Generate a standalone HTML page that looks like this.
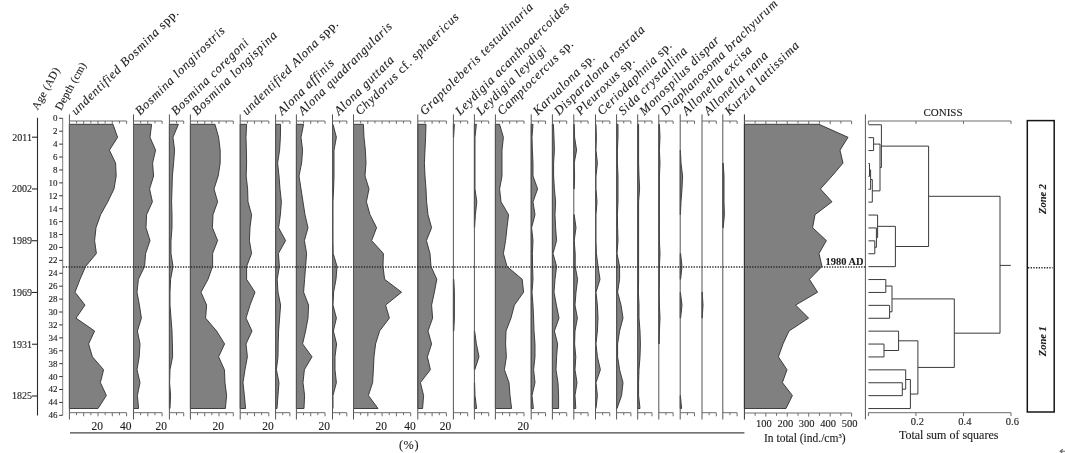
<!DOCTYPE html>
<html><head><meta charset="utf-8"><title>Cladocera stratigraphic diagram</title>
<style>
html,body{margin:0;padding:0;background:#fff;}
body{width:1065px;height:453px;overflow:hidden;}
svg{display:block;will-change:transform;filter:grayscale(1);font-variant-ligatures:none;font-family:"Liberation Serif","DejaVu Serif",serif;fill:#1c1c1c;stroke:#1c1c1c;stroke-width:0;} text{stroke-width:0.12px;}
</style></head><body>
<svg width="1065" height="453" viewBox="0 0 1065 453">
<rect width="1065" height="453" fill="#fff"/>
<line x1="37.50" y1="117.80" x2="37.50" y2="415.60" stroke="#2a2a2a" stroke-width="1.1" />
<line x1="32.00" y1="137.20" x2="37.50" y2="137.20" stroke="#2a2a2a" stroke-width="1.1" />
<text x="32.00" y="140.50" font-size="10" text-anchor="end" >2011</text>
<line x1="32.00" y1="188.96" x2="37.50" y2="188.96" stroke="#2a2a2a" stroke-width="1.1" />
<text x="32.00" y="192.26" font-size="10" text-anchor="end" >2002</text>
<line x1="32.00" y1="240.72" x2="37.50" y2="240.72" stroke="#2a2a2a" stroke-width="1.1" />
<text x="32.00" y="244.02" font-size="10" text-anchor="end" >1989</text>
<line x1="32.00" y1="292.48" x2="37.50" y2="292.48" stroke="#2a2a2a" stroke-width="1.1" />
<text x="32.00" y="295.78" font-size="10" text-anchor="end" >1969</text>
<line x1="32.00" y1="344.24" x2="37.50" y2="344.24" stroke="#2a2a2a" stroke-width="1.1" />
<text x="32.00" y="347.54" font-size="10" text-anchor="end" >1931</text>
<line x1="32.00" y1="396.00" x2="37.50" y2="396.00" stroke="#2a2a2a" stroke-width="1.1" />
<text x="32.00" y="399.30" font-size="10" text-anchor="end" >1825</text>
<line x1="62.70" y1="118.30" x2="62.70" y2="415.20" stroke="#808080" stroke-width="1" />
<line x1="59.20" y1="118.30" x2="62.70" y2="118.30" stroke="#333" stroke-width="1" />
<text x="57.60" y="120.50" font-size="9" text-anchor="end" >0</text>
<line x1="59.20" y1="131.21" x2="62.70" y2="131.21" stroke="#333" stroke-width="1" />
<text x="57.60" y="134.21" font-size="9" text-anchor="end" >2</text>
<line x1="59.20" y1="144.13" x2="62.70" y2="144.13" stroke="#333" stroke-width="1" />
<text x="57.60" y="147.13" font-size="9" text-anchor="end" >4</text>
<line x1="59.20" y1="157.04" x2="62.70" y2="157.04" stroke="#333" stroke-width="1" />
<text x="57.60" y="160.04" font-size="9" text-anchor="end" >6</text>
<line x1="59.20" y1="169.96" x2="62.70" y2="169.96" stroke="#333" stroke-width="1" />
<text x="57.60" y="172.96" font-size="9" text-anchor="end" >8</text>
<line x1="59.20" y1="182.87" x2="62.70" y2="182.87" stroke="#333" stroke-width="1" />
<text x="57.60" y="185.87" font-size="9" text-anchor="end" >10</text>
<line x1="59.20" y1="195.78" x2="62.70" y2="195.78" stroke="#333" stroke-width="1" />
<text x="57.60" y="198.78" font-size="9" text-anchor="end" >12</text>
<line x1="59.20" y1="208.70" x2="62.70" y2="208.70" stroke="#333" stroke-width="1" />
<text x="57.60" y="211.70" font-size="9" text-anchor="end" >14</text>
<line x1="59.20" y1="221.61" x2="62.70" y2="221.61" stroke="#333" stroke-width="1" />
<text x="57.60" y="224.61" font-size="9" text-anchor="end" >16</text>
<line x1="59.20" y1="234.53" x2="62.70" y2="234.53" stroke="#333" stroke-width="1" />
<text x="57.60" y="237.53" font-size="9" text-anchor="end" >18</text>
<line x1="59.20" y1="247.44" x2="62.70" y2="247.44" stroke="#333" stroke-width="1" />
<text x="57.60" y="250.44" font-size="9" text-anchor="end" >20</text>
<line x1="59.20" y1="260.35" x2="62.70" y2="260.35" stroke="#333" stroke-width="1" />
<text x="57.60" y="263.35" font-size="9" text-anchor="end" >22</text>
<line x1="59.20" y1="273.27" x2="62.70" y2="273.27" stroke="#333" stroke-width="1" />
<text x="57.60" y="276.27" font-size="9" text-anchor="end" >24</text>
<line x1="59.20" y1="286.18" x2="62.70" y2="286.18" stroke="#333" stroke-width="1" />
<text x="57.60" y="289.18" font-size="9" text-anchor="end" >26</text>
<line x1="59.20" y1="299.10" x2="62.70" y2="299.10" stroke="#333" stroke-width="1" />
<text x="57.60" y="302.10" font-size="9" text-anchor="end" >28</text>
<line x1="59.20" y1="312.01" x2="62.70" y2="312.01" stroke="#333" stroke-width="1" />
<text x="57.60" y="315.01" font-size="9" text-anchor="end" >30</text>
<line x1="59.20" y1="324.92" x2="62.70" y2="324.92" stroke="#333" stroke-width="1" />
<text x="57.60" y="327.92" font-size="9" text-anchor="end" >32</text>
<line x1="59.20" y1="337.84" x2="62.70" y2="337.84" stroke="#333" stroke-width="1" />
<text x="57.60" y="340.84" font-size="9" text-anchor="end" >34</text>
<line x1="59.20" y1="350.75" x2="62.70" y2="350.75" stroke="#333" stroke-width="1" />
<text x="57.60" y="353.75" font-size="9" text-anchor="end" >36</text>
<line x1="59.20" y1="363.67" x2="62.70" y2="363.67" stroke="#333" stroke-width="1" />
<text x="57.60" y="366.67" font-size="9" text-anchor="end" >38</text>
<line x1="59.20" y1="376.58" x2="62.70" y2="376.58" stroke="#333" stroke-width="1" />
<text x="57.60" y="379.58" font-size="9" text-anchor="end" >40</text>
<line x1="59.20" y1="389.49" x2="62.70" y2="389.49" stroke="#333" stroke-width="1" />
<text x="57.60" y="392.49" font-size="9" text-anchor="end" >42</text>
<line x1="59.20" y1="402.41" x2="62.70" y2="402.41" stroke="#333" stroke-width="1" />
<text x="57.60" y="405.41" font-size="9" text-anchor="end" >44</text>
<line x1="59.20" y1="415.32" x2="62.70" y2="415.32" stroke="#333" stroke-width="1" />
<text x="57.60" y="418.32" font-size="9" text-anchor="end" >46</text>
<polygon points="69.4,124.3 113.0,124.3 117.6,137.3 109.4,150.2 115.6,163.1 116.2,176.0 114.0,188.9 107.8,201.8 100.6,214.7 96.0,227.7 94.6,240.6 96.4,253.5 85.6,266.4 80.0,279.3 75.0,292.2 85.0,305.1 76.0,318.1 94.6,331.0 88.6,343.9 92.4,356.8 103.6,369.7 100.4,382.6 106.4,395.5 98.0,408.5 69.4,408.5" fill="#808080" stroke="#303030" stroke-width="0.9" stroke-linejoin="miter"/>
<line x1="69.40" y1="114.40" x2="69.40" y2="419.50" stroke="#555" stroke-width="1" />
<line x1="69.40" y1="121.00" x2="126.60" y2="121.00" stroke="#6c6c6c" stroke-width="1" />
<line x1="69.40" y1="412.70" x2="126.60" y2="412.70" stroke="#6c6c6c" stroke-width="1" />
<line x1="76.55" y1="121.00" x2="76.55" y2="123.40" stroke="#6c6c6c" stroke-width="1" />
<line x1="76.55" y1="412.70" x2="76.55" y2="415.20" stroke="#6c6c6c" stroke-width="1" />
<line x1="83.70" y1="121.00" x2="83.70" y2="123.90" stroke="#6c6c6c" stroke-width="1" />
<line x1="83.70" y1="412.70" x2="83.70" y2="416.30" stroke="#6c6c6c" stroke-width="1" />
<line x1="90.85" y1="121.00" x2="90.85" y2="123.40" stroke="#6c6c6c" stroke-width="1" />
<line x1="90.85" y1="412.70" x2="90.85" y2="415.20" stroke="#6c6c6c" stroke-width="1" />
<line x1="98.00" y1="121.00" x2="98.00" y2="123.90" stroke="#6c6c6c" stroke-width="1" />
<line x1="98.00" y1="412.70" x2="98.00" y2="416.30" stroke="#6c6c6c" stroke-width="1" />
<line x1="105.15" y1="121.00" x2="105.15" y2="123.40" stroke="#6c6c6c" stroke-width="1" />
<line x1="105.15" y1="412.70" x2="105.15" y2="415.20" stroke="#6c6c6c" stroke-width="1" />
<line x1="112.30" y1="121.00" x2="112.30" y2="123.90" stroke="#6c6c6c" stroke-width="1" />
<line x1="112.30" y1="412.70" x2="112.30" y2="416.30" stroke="#6c6c6c" stroke-width="1" />
<line x1="119.45" y1="121.00" x2="119.45" y2="123.40" stroke="#6c6c6c" stroke-width="1" />
<line x1="119.45" y1="412.70" x2="119.45" y2="415.20" stroke="#6c6c6c" stroke-width="1" />
<line x1="126.60" y1="121.00" x2="126.60" y2="123.90" stroke="#6c6c6c" stroke-width="1" />
<line x1="126.60" y1="412.70" x2="126.60" y2="416.30" stroke="#6c6c6c" stroke-width="1" />
<text x="97.20" y="429.60" font-size="11.5" text-anchor="middle" >20</text>
<text x="125.80" y="429.60" font-size="11.5" text-anchor="middle" >40</text>
<text transform="translate(76.0,115.7) rotate(-44.6)" font-size="12.5" letter-spacing="0.8" xml:space="preserve"><tspan font-style="italic">undentified Bosmina </tspan><tspan font-style="normal">spp.</tspan></text>
<polygon points="133.5,124.3 151.6,124.3 150.0,137.3 155.6,150.2 152.6,163.1 153.6,176.0 149.6,188.9 152.4,201.8 146.6,214.7 146.0,227.7 150.0,240.6 145.6,253.5 144.6,266.4 138.4,279.3 137.0,292.2 139.4,305.1 141.4,318.1 137.4,331.0 140.0,343.9 139.2,356.8 137.0,369.7 140.0,382.6 137.4,395.5 138.6,408.5 133.5,408.5" fill="#808080" stroke="#303030" stroke-width="0.9" stroke-linejoin="miter"/>
<line x1="133.50" y1="114.40" x2="133.50" y2="419.50" stroke="#555" stroke-width="1" />
<line x1="133.50" y1="121.00" x2="162.10" y2="121.00" stroke="#6c6c6c" stroke-width="1" />
<line x1="133.50" y1="412.70" x2="162.10" y2="412.70" stroke="#6c6c6c" stroke-width="1" />
<line x1="140.65" y1="121.00" x2="140.65" y2="123.40" stroke="#6c6c6c" stroke-width="1" />
<line x1="140.65" y1="412.70" x2="140.65" y2="415.20" stroke="#6c6c6c" stroke-width="1" />
<line x1="147.80" y1="121.00" x2="147.80" y2="123.90" stroke="#6c6c6c" stroke-width="1" />
<line x1="147.80" y1="412.70" x2="147.80" y2="416.30" stroke="#6c6c6c" stroke-width="1" />
<line x1="154.95" y1="121.00" x2="154.95" y2="123.40" stroke="#6c6c6c" stroke-width="1" />
<line x1="154.95" y1="412.70" x2="154.95" y2="415.20" stroke="#6c6c6c" stroke-width="1" />
<line x1="162.10" y1="121.00" x2="162.10" y2="123.90" stroke="#6c6c6c" stroke-width="1" />
<line x1="162.10" y1="412.70" x2="162.10" y2="416.30" stroke="#6c6c6c" stroke-width="1" />
<text x="161.30" y="429.60" font-size="11.5" text-anchor="middle" >20</text>
<text transform="translate(140.1,115.7) rotate(-44.6)" font-size="12.5" letter-spacing="0.8" xml:space="preserve"><tspan font-style="italic">Bosmina longirostris</tspan></text>
<polygon points="169.4,124.3 178.4,124.3 173.0,137.3 174.6,150.2 173.6,163.1 172.4,176.0 172.0,188.9 171.6,201.8 172.0,214.7 172.0,227.7 171.0,240.6 171.0,253.5 173.0,266.4 170.6,279.3 170.0,292.2 170.0,305.1 171.0,318.1 172.0,331.0 172.4,343.9 172.6,356.8 170.0,369.7 169.6,382.6 170.6,395.5 170.0,408.5 169.4,408.5" fill="#808080" stroke="#303030" stroke-width="0.9" stroke-linejoin="miter"/>
<line x1="169.40" y1="114.40" x2="169.40" y2="419.50" stroke="#555" stroke-width="1" />
<line x1="169.40" y1="121.00" x2="183.70" y2="121.00" stroke="#6c6c6c" stroke-width="1" />
<line x1="169.40" y1="412.70" x2="183.70" y2="412.70" stroke="#6c6c6c" stroke-width="1" />
<line x1="176.55" y1="121.00" x2="176.55" y2="123.40" stroke="#6c6c6c" stroke-width="1" />
<line x1="176.55" y1="412.70" x2="176.55" y2="415.20" stroke="#6c6c6c" stroke-width="1" />
<line x1="183.70" y1="121.00" x2="183.70" y2="123.90" stroke="#6c6c6c" stroke-width="1" />
<line x1="183.70" y1="412.70" x2="183.70" y2="416.30" stroke="#6c6c6c" stroke-width="1" />
<text transform="translate(176.0,115.7) rotate(-44.6)" font-size="12.5" letter-spacing="0.8" xml:space="preserve"><tspan font-style="italic">Bosmina coregoni</tspan></text>
<polygon points="190.4,124.3 215.0,124.3 218.6,137.3 220.2,150.2 220.2,163.1 218.2,176.0 214.0,188.9 217.6,201.8 213.0,214.7 212.4,227.7 217.6,240.6 212.6,253.5 212.6,266.4 208.0,279.3 201.0,292.2 206.6,305.1 205.6,318.1 216.6,331.0 224.6,343.9 218.6,356.8 224.4,369.7 225.0,382.6 226.6,395.5 225.4,408.5 190.4,408.5" fill="#808080" stroke="#303030" stroke-width="0.9" stroke-linejoin="miter"/>
<line x1="190.40" y1="114.40" x2="190.40" y2="419.50" stroke="#555" stroke-width="1" />
<line x1="190.40" y1="121.00" x2="233.30" y2="121.00" stroke="#6c6c6c" stroke-width="1" />
<line x1="190.40" y1="412.70" x2="233.30" y2="412.70" stroke="#6c6c6c" stroke-width="1" />
<line x1="197.55" y1="121.00" x2="197.55" y2="123.40" stroke="#6c6c6c" stroke-width="1" />
<line x1="197.55" y1="412.70" x2="197.55" y2="415.20" stroke="#6c6c6c" stroke-width="1" />
<line x1="204.70" y1="121.00" x2="204.70" y2="123.90" stroke="#6c6c6c" stroke-width="1" />
<line x1="204.70" y1="412.70" x2="204.70" y2="416.30" stroke="#6c6c6c" stroke-width="1" />
<line x1="211.85" y1="121.00" x2="211.85" y2="123.40" stroke="#6c6c6c" stroke-width="1" />
<line x1="211.85" y1="412.70" x2="211.85" y2="415.20" stroke="#6c6c6c" stroke-width="1" />
<line x1="219.00" y1="121.00" x2="219.00" y2="123.90" stroke="#6c6c6c" stroke-width="1" />
<line x1="219.00" y1="412.70" x2="219.00" y2="416.30" stroke="#6c6c6c" stroke-width="1" />
<line x1="226.15" y1="121.00" x2="226.15" y2="123.40" stroke="#6c6c6c" stroke-width="1" />
<line x1="226.15" y1="412.70" x2="226.15" y2="415.20" stroke="#6c6c6c" stroke-width="1" />
<line x1="233.30" y1="121.00" x2="233.30" y2="123.90" stroke="#6c6c6c" stroke-width="1" />
<line x1="233.30" y1="412.70" x2="233.30" y2="416.30" stroke="#6c6c6c" stroke-width="1" />
<text x="218.20" y="429.60" font-size="11.5" text-anchor="middle" >20</text>
<text transform="translate(197.0,115.7) rotate(-44.6)" font-size="12.5" letter-spacing="0.8" xml:space="preserve"><tspan font-style="italic">Bosmina longispina</tspan></text>
<polygon points="240.2,124.3 246.6,124.3 246.0,137.3 246.4,150.2 246.6,163.1 246.2,176.0 247.6,188.9 248.0,201.8 251.6,214.7 250.0,227.7 249.4,240.6 251.6,253.5 246.6,266.4 246.6,279.3 255.0,292.2 250.0,305.1 246.0,318.1 252.0,331.0 246.0,343.9 247.4,356.8 245.0,369.7 243.0,382.6 244.4,395.5 245.6,408.5 240.2,408.5" fill="#808080" stroke="#303030" stroke-width="0.9" stroke-linejoin="miter"/>
<line x1="240.20" y1="114.40" x2="240.20" y2="419.50" stroke="#555" stroke-width="1" />
<line x1="240.20" y1="121.00" x2="268.80" y2="121.00" stroke="#6c6c6c" stroke-width="1" />
<line x1="240.20" y1="412.70" x2="268.80" y2="412.70" stroke="#6c6c6c" stroke-width="1" />
<line x1="247.35" y1="121.00" x2="247.35" y2="123.40" stroke="#6c6c6c" stroke-width="1" />
<line x1="247.35" y1="412.70" x2="247.35" y2="415.20" stroke="#6c6c6c" stroke-width="1" />
<line x1="254.50" y1="121.00" x2="254.50" y2="123.90" stroke="#6c6c6c" stroke-width="1" />
<line x1="254.50" y1="412.70" x2="254.50" y2="416.30" stroke="#6c6c6c" stroke-width="1" />
<line x1="261.65" y1="121.00" x2="261.65" y2="123.40" stroke="#6c6c6c" stroke-width="1" />
<line x1="261.65" y1="412.70" x2="261.65" y2="415.20" stroke="#6c6c6c" stroke-width="1" />
<line x1="268.80" y1="121.00" x2="268.80" y2="123.90" stroke="#6c6c6c" stroke-width="1" />
<line x1="268.80" y1="412.70" x2="268.80" y2="416.30" stroke="#6c6c6c" stroke-width="1" />
<text x="268.00" y="429.60" font-size="11.5" text-anchor="middle" >20</text>
<text transform="translate(246.8,115.7) rotate(-44.6)" font-size="12.5" letter-spacing="0.8" xml:space="preserve"><tspan font-style="italic">undentified Alona </tspan><tspan font-style="normal">spp.</tspan></text>
<polygon points="275.6,124.3 280.6,124.3 280.4,137.3 279.6,150.2 277.6,163.1 279.0,176.0 280.0,188.9 281.4,201.8 280.4,214.7 278.6,227.7 285.6,240.6 278.4,253.5 279.4,266.4 277.2,279.3 278.0,292.2 280.6,305.1 279.6,318.1 278.6,331.0 278.2,343.9 278.0,356.8 276.4,369.7 279.0,382.6 278.0,395.5 277.0,408.5 275.6,408.5" fill="#808080" stroke="#303030" stroke-width="0.9" stroke-linejoin="miter"/>
<line x1="275.60" y1="114.40" x2="275.60" y2="419.50" stroke="#555" stroke-width="1" />
<line x1="275.60" y1="121.00" x2="289.90" y2="121.00" stroke="#6c6c6c" stroke-width="1" />
<line x1="275.60" y1="412.70" x2="289.90" y2="412.70" stroke="#6c6c6c" stroke-width="1" />
<line x1="282.75" y1="121.00" x2="282.75" y2="123.40" stroke="#6c6c6c" stroke-width="1" />
<line x1="282.75" y1="412.70" x2="282.75" y2="415.20" stroke="#6c6c6c" stroke-width="1" />
<line x1="289.90" y1="121.00" x2="289.90" y2="123.90" stroke="#6c6c6c" stroke-width="1" />
<line x1="289.90" y1="412.70" x2="289.90" y2="416.30" stroke="#6c6c6c" stroke-width="1" />
<text transform="translate(282.2,115.7) rotate(-44.6)" font-size="12.5" letter-spacing="0.8" xml:space="preserve"><tspan font-style="italic">Alona affinis</tspan></text>
<polygon points="296.4,124.3 303.6,124.3 301.0,137.3 302.6,150.2 301.6,163.1 299.0,176.0 301.0,188.9 303.0,201.8 305.0,214.7 308.0,227.7 304.4,240.6 306.6,253.5 305.6,266.4 304.6,279.3 303.6,292.2 308.6,305.1 308.0,318.1 305.6,331.0 302.6,343.9 312.0,356.8 304.4,369.7 303.0,382.6 304.6,395.5 304.0,408.5 296.4,408.5" fill="#808080" stroke="#303030" stroke-width="0.9" stroke-linejoin="miter"/>
<line x1="296.40" y1="114.40" x2="296.40" y2="419.50" stroke="#555" stroke-width="1" />
<line x1="296.40" y1="121.00" x2="325.00" y2="121.00" stroke="#6c6c6c" stroke-width="1" />
<line x1="296.40" y1="412.70" x2="325.00" y2="412.70" stroke="#6c6c6c" stroke-width="1" />
<line x1="303.55" y1="121.00" x2="303.55" y2="123.40" stroke="#6c6c6c" stroke-width="1" />
<line x1="303.55" y1="412.70" x2="303.55" y2="415.20" stroke="#6c6c6c" stroke-width="1" />
<line x1="310.70" y1="121.00" x2="310.70" y2="123.90" stroke="#6c6c6c" stroke-width="1" />
<line x1="310.70" y1="412.70" x2="310.70" y2="416.30" stroke="#6c6c6c" stroke-width="1" />
<line x1="317.85" y1="121.00" x2="317.85" y2="123.40" stroke="#6c6c6c" stroke-width="1" />
<line x1="317.85" y1="412.70" x2="317.85" y2="415.20" stroke="#6c6c6c" stroke-width="1" />
<line x1="325.00" y1="121.00" x2="325.00" y2="123.90" stroke="#6c6c6c" stroke-width="1" />
<line x1="325.00" y1="412.70" x2="325.00" y2="416.30" stroke="#6c6c6c" stroke-width="1" />
<text x="324.20" y="429.60" font-size="11.5" text-anchor="middle" >20</text>
<text transform="translate(303.0,115.7) rotate(-44.6)" font-size="12.5" letter-spacing="0.8" xml:space="preserve"><tspan font-style="italic">Alona quadrangularis</tspan></text>
<polygon points="332.5,124.3 333.0,124.3 336.4,137.3 334.0,150.2 334.0,163.1 334.0,176.0 333.6,188.9 333.0,201.8 333.0,214.7 333.0,227.7 333.0,240.6 333.2,253.5 337.0,266.4 336.0,279.3 333.6,292.2 333.0,305.1 336.4,318.1 333.4,331.0 336.6,343.9 335.0,356.8 335.0,369.7 336.4,382.6 333.0,395.5 333.0,408.5 332.5,408.5" fill="#808080" stroke="#303030" stroke-width="0.9" stroke-linejoin="miter"/>
<line x1="332.50" y1="114.40" x2="332.50" y2="419.50" stroke="#555" stroke-width="1" />
<line x1="332.50" y1="121.00" x2="346.80" y2="121.00" stroke="#6c6c6c" stroke-width="1" />
<line x1="332.50" y1="412.70" x2="346.80" y2="412.70" stroke="#6c6c6c" stroke-width="1" />
<line x1="339.65" y1="121.00" x2="339.65" y2="123.40" stroke="#6c6c6c" stroke-width="1" />
<line x1="339.65" y1="412.70" x2="339.65" y2="415.20" stroke="#6c6c6c" stroke-width="1" />
<line x1="346.80" y1="121.00" x2="346.80" y2="123.90" stroke="#6c6c6c" stroke-width="1" />
<line x1="346.80" y1="412.70" x2="346.80" y2="416.30" stroke="#6c6c6c" stroke-width="1" />
<text transform="translate(339.1,115.7) rotate(-44.6)" font-size="12.5" letter-spacing="0.8" xml:space="preserve"><tspan font-style="italic">Alona guttata</tspan></text>
<polygon points="353.5,124.3 363.4,124.3 364.0,137.3 365.4,150.2 366.0,163.1 365.0,176.0 369.0,188.9 366.4,201.8 370.0,214.7 376.6,227.7 371.6,240.6 383.4,253.5 383.0,266.4 384.6,279.3 401.6,292.2 385.6,305.1 389.4,318.1 379.6,331.0 375.6,343.9 374.0,356.8 373.4,369.7 372.6,382.6 368.4,395.5 378.0,408.5 353.5,408.5" fill="#808080" stroke="#303030" stroke-width="0.9" stroke-linejoin="miter"/>
<line x1="353.50" y1="114.40" x2="353.50" y2="419.50" stroke="#555" stroke-width="1" />
<line x1="353.50" y1="121.00" x2="410.70" y2="121.00" stroke="#6c6c6c" stroke-width="1" />
<line x1="353.50" y1="412.70" x2="410.70" y2="412.70" stroke="#6c6c6c" stroke-width="1" />
<line x1="360.65" y1="121.00" x2="360.65" y2="123.40" stroke="#6c6c6c" stroke-width="1" />
<line x1="360.65" y1="412.70" x2="360.65" y2="415.20" stroke="#6c6c6c" stroke-width="1" />
<line x1="367.80" y1="121.00" x2="367.80" y2="123.90" stroke="#6c6c6c" stroke-width="1" />
<line x1="367.80" y1="412.70" x2="367.80" y2="416.30" stroke="#6c6c6c" stroke-width="1" />
<line x1="374.95" y1="121.00" x2="374.95" y2="123.40" stroke="#6c6c6c" stroke-width="1" />
<line x1="374.95" y1="412.70" x2="374.95" y2="415.20" stroke="#6c6c6c" stroke-width="1" />
<line x1="382.10" y1="121.00" x2="382.10" y2="123.90" stroke="#6c6c6c" stroke-width="1" />
<line x1="382.10" y1="412.70" x2="382.10" y2="416.30" stroke="#6c6c6c" stroke-width="1" />
<line x1="389.25" y1="121.00" x2="389.25" y2="123.40" stroke="#6c6c6c" stroke-width="1" />
<line x1="389.25" y1="412.70" x2="389.25" y2="415.20" stroke="#6c6c6c" stroke-width="1" />
<line x1="396.40" y1="121.00" x2="396.40" y2="123.90" stroke="#6c6c6c" stroke-width="1" />
<line x1="396.40" y1="412.70" x2="396.40" y2="416.30" stroke="#6c6c6c" stroke-width="1" />
<line x1="403.55" y1="121.00" x2="403.55" y2="123.40" stroke="#6c6c6c" stroke-width="1" />
<line x1="403.55" y1="412.70" x2="403.55" y2="415.20" stroke="#6c6c6c" stroke-width="1" />
<line x1="410.70" y1="121.00" x2="410.70" y2="123.90" stroke="#6c6c6c" stroke-width="1" />
<line x1="410.70" y1="412.70" x2="410.70" y2="416.30" stroke="#6c6c6c" stroke-width="1" />
<text x="381.30" y="429.60" font-size="11.5" text-anchor="middle" >20</text>
<text x="409.90" y="429.60" font-size="11.5" text-anchor="middle" >40</text>
<text transform="translate(360.1,115.7) rotate(-44.6)" font-size="12.5" letter-spacing="0.8" xml:space="preserve"><tspan font-style="italic">Chydorus </tspan><tspan font-style="normal">cf.</tspan><tspan font-style="italic"> sphaericus</tspan></text>
<polygon points="417.8,124.3 426.0,124.3 425.6,137.3 425.0,150.2 424.4,163.1 425.0,176.0 426.0,188.9 426.6,201.8 428.0,214.7 431.6,227.7 426.4,240.6 430.0,253.5 431.0,266.4 436.8,279.3 434.4,292.2 431.6,305.1 432.6,318.1 428.0,331.0 431.6,343.9 427.4,356.8 430.4,369.7 420.4,382.6 423.6,395.5 422.6,408.5 417.8,408.5" fill="#808080" stroke="#303030" stroke-width="0.9" stroke-linejoin="miter"/>
<line x1="417.80" y1="114.40" x2="417.80" y2="419.50" stroke="#555" stroke-width="1" />
<line x1="417.80" y1="121.00" x2="446.40" y2="121.00" stroke="#6c6c6c" stroke-width="1" />
<line x1="417.80" y1="412.70" x2="446.40" y2="412.70" stroke="#6c6c6c" stroke-width="1" />
<line x1="424.95" y1="121.00" x2="424.95" y2="123.40" stroke="#6c6c6c" stroke-width="1" />
<line x1="424.95" y1="412.70" x2="424.95" y2="415.20" stroke="#6c6c6c" stroke-width="1" />
<line x1="432.10" y1="121.00" x2="432.10" y2="123.90" stroke="#6c6c6c" stroke-width="1" />
<line x1="432.10" y1="412.70" x2="432.10" y2="416.30" stroke="#6c6c6c" stroke-width="1" />
<line x1="439.25" y1="121.00" x2="439.25" y2="123.40" stroke="#6c6c6c" stroke-width="1" />
<line x1="439.25" y1="412.70" x2="439.25" y2="415.20" stroke="#6c6c6c" stroke-width="1" />
<line x1="446.40" y1="121.00" x2="446.40" y2="123.90" stroke="#6c6c6c" stroke-width="1" />
<line x1="446.40" y1="412.70" x2="446.40" y2="416.30" stroke="#6c6c6c" stroke-width="1" />
<text x="445.60" y="429.60" font-size="11.5" text-anchor="middle" >20</text>
<text transform="translate(424.4,115.7) rotate(-44.6)" font-size="12.5" letter-spacing="0.8" xml:space="preserve"><tspan font-style="italic">Graptoleberis testudinaria</tspan></text>
<polygon points="453.4,124.3 454.4,124.3 453.6,137.3 453.4,137.3" fill="#808080" stroke="#303030" stroke-width="0.9" stroke-linejoin="miter"/>
<polygon points="453.4,279.3 453.8,279.3 454.4,292.2 454.4,305.1 454.4,318.1 453.8,331.0 453.4,331.0" fill="#808080" stroke="#303030" stroke-width="0.9" stroke-linejoin="miter"/>
<line x1="453.40" y1="114.40" x2="453.40" y2="419.50" stroke="#555" stroke-width="1" />
<line x1="453.40" y1="121.00" x2="467.70" y2="121.00" stroke="#6c6c6c" stroke-width="1" />
<line x1="453.40" y1="412.70" x2="467.70" y2="412.70" stroke="#6c6c6c" stroke-width="1" />
<line x1="460.55" y1="121.00" x2="460.55" y2="123.40" stroke="#6c6c6c" stroke-width="1" />
<line x1="460.55" y1="412.70" x2="460.55" y2="415.20" stroke="#6c6c6c" stroke-width="1" />
<line x1="467.70" y1="121.00" x2="467.70" y2="123.90" stroke="#6c6c6c" stroke-width="1" />
<line x1="467.70" y1="412.70" x2="467.70" y2="416.30" stroke="#6c6c6c" stroke-width="1" />
<text transform="translate(460.0,115.7) rotate(-44.6)" font-size="12.5" letter-spacing="0.8" xml:space="preserve"><tspan font-style="italic">Leydigia acanthoaercoides</tspan></text>
<polygon points="474.4,124.3 476.4,124.3 475.0,137.3 475.0,150.2 475.0,163.1 475.0,176.0 475.0,188.9 476.8,201.8 475.4,214.7 474.6,227.7 474.4,227.7" fill="#808080" stroke="#303030" stroke-width="0.9" stroke-linejoin="miter"/>
<polygon points="474.4,331.0 474.6,331.0 476.4,343.9 479.0,356.8 474.8,369.7 474.4,369.7" fill="#808080" stroke="#303030" stroke-width="0.9" stroke-linejoin="miter"/>
<polygon points="474.4,382.6 474.6,382.6 475.0,395.5 476.6,408.5 474.4,408.5" fill="#808080" stroke="#303030" stroke-width="0.9" stroke-linejoin="miter"/>
<line x1="474.40" y1="114.40" x2="474.40" y2="419.50" stroke="#555" stroke-width="1" />
<line x1="474.40" y1="121.00" x2="488.70" y2="121.00" stroke="#6c6c6c" stroke-width="1" />
<line x1="474.40" y1="412.70" x2="488.70" y2="412.70" stroke="#6c6c6c" stroke-width="1" />
<line x1="481.55" y1="121.00" x2="481.55" y2="123.40" stroke="#6c6c6c" stroke-width="1" />
<line x1="481.55" y1="412.70" x2="481.55" y2="415.20" stroke="#6c6c6c" stroke-width="1" />
<line x1="488.70" y1="121.00" x2="488.70" y2="123.90" stroke="#6c6c6c" stroke-width="1" />
<line x1="488.70" y1="412.70" x2="488.70" y2="416.30" stroke="#6c6c6c" stroke-width="1" />
<text transform="translate(481.0,115.7) rotate(-44.6)" font-size="12.5" letter-spacing="0.8" xml:space="preserve"><tspan font-style="italic">Leydigia leydigi</tspan></text>
<polygon points="495.4,124.3 499.6,124.3 503.4,137.3 502.0,150.2 502.0,163.1 502.0,176.0 499.6,188.9 501.0,201.8 508.6,214.7 507.0,227.7 505.6,240.6 503.4,253.5 507.0,266.4 522.2,279.3 523.6,292.2 514.4,305.1 511.0,318.1 506.0,331.0 505.6,343.9 506.4,356.8 504.4,369.7 509.0,382.6 510.0,395.5 511.6,408.5 495.4,408.5" fill="#808080" stroke="#303030" stroke-width="0.9" stroke-linejoin="miter"/>
<line x1="495.40" y1="114.40" x2="495.40" y2="419.50" stroke="#555" stroke-width="1" />
<line x1="495.40" y1="121.00" x2="524.00" y2="121.00" stroke="#6c6c6c" stroke-width="1" />
<line x1="495.40" y1="412.70" x2="524.00" y2="412.70" stroke="#6c6c6c" stroke-width="1" />
<line x1="502.55" y1="121.00" x2="502.55" y2="123.40" stroke="#6c6c6c" stroke-width="1" />
<line x1="502.55" y1="412.70" x2="502.55" y2="415.20" stroke="#6c6c6c" stroke-width="1" />
<line x1="509.70" y1="121.00" x2="509.70" y2="123.90" stroke="#6c6c6c" stroke-width="1" />
<line x1="509.70" y1="412.70" x2="509.70" y2="416.30" stroke="#6c6c6c" stroke-width="1" />
<line x1="516.85" y1="121.00" x2="516.85" y2="123.40" stroke="#6c6c6c" stroke-width="1" />
<line x1="516.85" y1="412.70" x2="516.85" y2="415.20" stroke="#6c6c6c" stroke-width="1" />
<line x1="524.00" y1="121.00" x2="524.00" y2="123.90" stroke="#6c6c6c" stroke-width="1" />
<line x1="524.00" y1="412.70" x2="524.00" y2="416.30" stroke="#6c6c6c" stroke-width="1" />
<text x="523.20" y="429.60" font-size="11.5" text-anchor="middle" >20</text>
<text transform="translate(502.0,115.7) rotate(-44.6)" font-size="12.5" letter-spacing="0.8" xml:space="preserve"><tspan font-style="italic">Camptocercus </tspan><tspan font-style="normal">sp.</tspan></text>
<polygon points="531.2,124.3 533.0,124.3 532.0,137.3 532.4,150.2 533.0,163.1 533.0,176.0 537.6,188.9 533.0,201.8 535.0,214.7 531.6,227.7 533.0,240.6 532.4,253.5 532.6,266.4 533.0,279.3 532.0,292.2 533.0,305.1 533.6,318.1 534.0,331.0 535.0,343.9 535.0,356.8 533.6,369.7 535.0,382.6 532.0,395.5 533.4,408.5 531.2,408.5" fill="#808080" stroke="#303030" stroke-width="0.9" stroke-linejoin="miter"/>
<line x1="531.20" y1="114.40" x2="531.20" y2="419.50" stroke="#555" stroke-width="1" />
<line x1="531.20" y1="121.00" x2="545.50" y2="121.00" stroke="#6c6c6c" stroke-width="1" />
<line x1="531.20" y1="412.70" x2="545.50" y2="412.70" stroke="#6c6c6c" stroke-width="1" />
<line x1="538.35" y1="121.00" x2="538.35" y2="123.40" stroke="#6c6c6c" stroke-width="1" />
<line x1="538.35" y1="412.70" x2="538.35" y2="415.20" stroke="#6c6c6c" stroke-width="1" />
<line x1="545.50" y1="121.00" x2="545.50" y2="123.90" stroke="#6c6c6c" stroke-width="1" />
<line x1="545.50" y1="412.70" x2="545.50" y2="416.30" stroke="#6c6c6c" stroke-width="1" />
<text transform="translate(537.8,115.7) rotate(-44.6)" font-size="12.5" letter-spacing="0.8" xml:space="preserve"><tspan font-style="italic">Karualona </tspan><tspan font-style="normal">sp.</tspan></text>
<polygon points="552.4,124.3 553.4,124.3 554.0,137.3 554.4,150.2 553.6,163.1 553.6,176.0 554.4,188.9 555.6,201.8 555.0,214.7 555.6,227.7 556.6,240.6 553.0,253.5 556.6,266.4 555.0,279.3 554.0,292.2 556.4,305.1 559.0,318.1 554.4,331.0 557.6,343.9 556.6,356.8 556.0,369.7 558.0,382.6 558.6,395.5 558.6,408.5 552.4,408.5" fill="#808080" stroke="#303030" stroke-width="0.9" stroke-linejoin="miter"/>
<line x1="552.40" y1="114.40" x2="552.40" y2="419.50" stroke="#555" stroke-width="1" />
<line x1="552.40" y1="121.00" x2="566.70" y2="121.00" stroke="#6c6c6c" stroke-width="1" />
<line x1="552.40" y1="412.70" x2="566.70" y2="412.70" stroke="#6c6c6c" stroke-width="1" />
<line x1="559.55" y1="121.00" x2="559.55" y2="123.40" stroke="#6c6c6c" stroke-width="1" />
<line x1="559.55" y1="412.70" x2="559.55" y2="415.20" stroke="#6c6c6c" stroke-width="1" />
<line x1="566.70" y1="121.00" x2="566.70" y2="123.90" stroke="#6c6c6c" stroke-width="1" />
<line x1="566.70" y1="412.70" x2="566.70" y2="416.30" stroke="#6c6c6c" stroke-width="1" />
<text transform="translate(559.0,115.7) rotate(-44.6)" font-size="12.5" letter-spacing="0.8" xml:space="preserve"><tspan font-style="italic">Disparalona rostrata</tspan></text>
<polygon points="573.8,124.3 574.2,124.3 574.6,137.3 576.6,150.2 574.2,163.1 574.6,176.0 574.2,188.9 573.8,188.9" fill="#808080" stroke="#303030" stroke-width="0.9" stroke-linejoin="miter"/>
<polygon points="573.8,214.7 574.2,214.7 576.0,227.7 574.2,240.6 575.2,253.5 575.2,266.4 577.6,279.3 576.0,292.2 575.0,305.1 577.4,318.1 575.0,331.0 574.6,343.9 575.8,356.8 575.0,369.7 577.0,382.6 575.0,395.5 575.8,408.5 573.8,408.5" fill="#808080" stroke="#303030" stroke-width="0.9" stroke-linejoin="miter"/>
<line x1="573.80" y1="114.40" x2="573.80" y2="419.50" stroke="#555" stroke-width="1" />
<line x1="573.80" y1="121.00" x2="588.10" y2="121.00" stroke="#6c6c6c" stroke-width="1" />
<line x1="573.80" y1="412.70" x2="588.10" y2="412.70" stroke="#6c6c6c" stroke-width="1" />
<line x1="580.95" y1="121.00" x2="580.95" y2="123.40" stroke="#6c6c6c" stroke-width="1" />
<line x1="580.95" y1="412.70" x2="580.95" y2="415.20" stroke="#6c6c6c" stroke-width="1" />
<line x1="588.10" y1="121.00" x2="588.10" y2="123.90" stroke="#6c6c6c" stroke-width="1" />
<line x1="588.10" y1="412.70" x2="588.10" y2="416.30" stroke="#6c6c6c" stroke-width="1" />
<text transform="translate(580.4,115.7) rotate(-44.6)" font-size="12.5" letter-spacing="0.8" xml:space="preserve"><tspan font-style="italic">Pleuroxus </tspan><tspan font-style="normal">sp.</tspan></text>
<polygon points="595.5,124.3 596.0,124.3 596.4,137.3 596.0,150.2 597.4,163.1 596.0,176.0 596.0,188.9 597.0,201.8 596.0,214.7 596.0,227.7 596.0,240.6 596.4,253.5 598.0,266.4 600.0,279.3 596.0,292.2 597.4,305.1 598.0,318.1 597.4,331.0 596.0,343.9 597.4,356.8 600.4,369.7 596.0,382.6 597.4,395.5 596.0,408.5 595.5,408.5" fill="#808080" stroke="#303030" stroke-width="0.9" stroke-linejoin="miter"/>
<line x1="595.50" y1="114.40" x2="595.50" y2="419.50" stroke="#555" stroke-width="1" />
<line x1="595.50" y1="121.00" x2="609.80" y2="121.00" stroke="#6c6c6c" stroke-width="1" />
<line x1="595.50" y1="412.70" x2="609.80" y2="412.70" stroke="#6c6c6c" stroke-width="1" />
<line x1="602.65" y1="121.00" x2="602.65" y2="123.40" stroke="#6c6c6c" stroke-width="1" />
<line x1="602.65" y1="412.70" x2="602.65" y2="415.20" stroke="#6c6c6c" stroke-width="1" />
<line x1="609.80" y1="121.00" x2="609.80" y2="123.90" stroke="#6c6c6c" stroke-width="1" />
<line x1="609.80" y1="412.70" x2="609.80" y2="416.30" stroke="#6c6c6c" stroke-width="1" />
<text transform="translate(602.1,115.7) rotate(-44.6)" font-size="12.5" letter-spacing="0.8" xml:space="preserve"><tspan font-style="italic">Ceriodaphnia </tspan><tspan font-style="normal">sp.</tspan></text>
<polygon points="616.6,124.3 618.0,124.3 618.0,137.3 617.4,150.2 617.4,163.1 618.0,176.0 618.0,188.9 618.0,201.8 617.4,214.7 617.6,227.7 618.0,240.6 617.0,253.5 619.6,266.4 619.6,279.3 617.6,292.2 621.0,305.1 623.0,318.1 619.6,331.0 617.6,343.9 617.6,356.8 619.6,369.7 623.0,382.6 621.6,395.5 617.0,408.5 616.6,408.5" fill="#808080" stroke="#303030" stroke-width="0.9" stroke-linejoin="miter"/>
<line x1="616.60" y1="114.40" x2="616.60" y2="419.50" stroke="#555" stroke-width="1" />
<line x1="616.60" y1="121.00" x2="630.90" y2="121.00" stroke="#6c6c6c" stroke-width="1" />
<line x1="616.60" y1="412.70" x2="630.90" y2="412.70" stroke="#6c6c6c" stroke-width="1" />
<line x1="623.75" y1="121.00" x2="623.75" y2="123.40" stroke="#6c6c6c" stroke-width="1" />
<line x1="623.75" y1="412.70" x2="623.75" y2="415.20" stroke="#6c6c6c" stroke-width="1" />
<line x1="630.90" y1="121.00" x2="630.90" y2="123.90" stroke="#6c6c6c" stroke-width="1" />
<line x1="630.90" y1="412.70" x2="630.90" y2="416.30" stroke="#6c6c6c" stroke-width="1" />
<text transform="translate(623.2,115.7) rotate(-44.6)" font-size="12.5" letter-spacing="0.8" xml:space="preserve"><tspan font-style="italic">Sida crystallina</tspan></text>
<polygon points="637.7,124.3 638.6,124.3 638.6,137.3 638.6,150.2 638.6,163.1 639.0,176.0 639.6,188.9 638.6,201.8 638.6,214.7 638.6,227.7 638.6,240.6 638.6,253.5 638.6,266.4 638.6,279.3 638.4,292.2 639.0,305.1 639.0,318.1 640.0,331.0 640.4,343.9 640.0,356.8 639.0,369.7 638.6,382.6 638.6,395.5 640.0,408.5 637.7,408.5" fill="#808080" stroke="#303030" stroke-width="0.9" stroke-linejoin="miter"/>
<line x1="637.70" y1="114.40" x2="637.70" y2="419.50" stroke="#555" stroke-width="1" />
<line x1="637.70" y1="121.00" x2="652.00" y2="121.00" stroke="#6c6c6c" stroke-width="1" />
<line x1="637.70" y1="412.70" x2="652.00" y2="412.70" stroke="#6c6c6c" stroke-width="1" />
<line x1="644.85" y1="121.00" x2="644.85" y2="123.40" stroke="#6c6c6c" stroke-width="1" />
<line x1="644.85" y1="412.70" x2="644.85" y2="415.20" stroke="#6c6c6c" stroke-width="1" />
<line x1="652.00" y1="121.00" x2="652.00" y2="123.90" stroke="#6c6c6c" stroke-width="1" />
<line x1="652.00" y1="412.70" x2="652.00" y2="416.30" stroke="#6c6c6c" stroke-width="1" />
<text transform="translate(644.3,115.7) rotate(-44.6)" font-size="12.5" letter-spacing="0.8" xml:space="preserve"><tspan font-style="italic">Monospilus dispar</tspan></text>
<polygon points="658.8,124.3 659.4,124.3 660.0,137.3 659.4,150.2 660.0,163.1 659.4,176.0 659.4,188.9 659.4,201.8 659.4,214.7 659.4,227.7 659.4,240.6 660.0,253.5 659.4,266.4 659.4,279.3 659.2,292.2 659.4,305.1 660.0,318.1 659.4,331.0 659.2,343.9 658.8,343.9" fill="#808080" stroke="#303030" stroke-width="0.9" stroke-linejoin="miter"/>
<line x1="658.80" y1="114.40" x2="658.80" y2="419.50" stroke="#555" stroke-width="1" />
<line x1="658.80" y1="121.00" x2="673.10" y2="121.00" stroke="#6c6c6c" stroke-width="1" />
<line x1="658.80" y1="412.70" x2="673.10" y2="412.70" stroke="#6c6c6c" stroke-width="1" />
<line x1="665.95" y1="121.00" x2="665.95" y2="123.40" stroke="#6c6c6c" stroke-width="1" />
<line x1="665.95" y1="412.70" x2="665.95" y2="415.20" stroke="#6c6c6c" stroke-width="1" />
<line x1="673.10" y1="121.00" x2="673.10" y2="123.90" stroke="#6c6c6c" stroke-width="1" />
<line x1="673.10" y1="412.70" x2="673.10" y2="416.30" stroke="#6c6c6c" stroke-width="1" />
<text transform="translate(665.4,115.7) rotate(-44.6)" font-size="12.5" letter-spacing="0.8" xml:space="preserve"><tspan font-style="italic">Diaphanosoma brachyurum</tspan></text>
<polygon points="680.2,150.2 680.4,150.2 681.0,163.1 682.6,176.0 682.0,188.9 681.0,201.8 680.4,214.7 680.2,214.7" fill="#808080" stroke="#303030" stroke-width="0.9" stroke-linejoin="miter"/>
<polygon points="680.2,253.5 680.6,253.5 682.0,266.4 680.6,279.3 680.2,279.3" fill="#808080" stroke="#303030" stroke-width="0.9" stroke-linejoin="miter"/>
<polygon points="680.2,292.2 680.4,292.2 682.0,305.1 680.6,318.1 680.2,318.1" fill="#808080" stroke="#303030" stroke-width="0.9" stroke-linejoin="miter"/>
<polygon points="680.2,395.5 680.4,395.5 681.6,408.5 680.2,408.5" fill="#808080" stroke="#303030" stroke-width="0.9" stroke-linejoin="miter"/>
<line x1="680.20" y1="114.40" x2="680.20" y2="419.50" stroke="#555" stroke-width="1" />
<line x1="680.20" y1="121.00" x2="694.50" y2="121.00" stroke="#6c6c6c" stroke-width="1" />
<line x1="680.20" y1="412.70" x2="694.50" y2="412.70" stroke="#6c6c6c" stroke-width="1" />
<line x1="687.35" y1="121.00" x2="687.35" y2="123.40" stroke="#6c6c6c" stroke-width="1" />
<line x1="687.35" y1="412.70" x2="687.35" y2="415.20" stroke="#6c6c6c" stroke-width="1" />
<line x1="694.50" y1="121.00" x2="694.50" y2="123.90" stroke="#6c6c6c" stroke-width="1" />
<line x1="694.50" y1="412.70" x2="694.50" y2="416.30" stroke="#6c6c6c" stroke-width="1" />
<text transform="translate(686.8,115.7) rotate(-44.6)" font-size="12.5" letter-spacing="0.8" xml:space="preserve"><tspan font-style="italic">Allonella excisa</tspan></text>
<polygon points="702.0,292.2 702.2,292.2 703.0,305.1 702.2,318.1 702.0,318.1" fill="#808080" stroke="#303030" stroke-width="0.9" stroke-linejoin="miter"/>
<line x1="702.00" y1="114.40" x2="702.00" y2="419.50" stroke="#555" stroke-width="1" />
<line x1="702.00" y1="121.00" x2="716.30" y2="121.00" stroke="#6c6c6c" stroke-width="1" />
<line x1="702.00" y1="412.70" x2="716.30" y2="412.70" stroke="#6c6c6c" stroke-width="1" />
<line x1="709.15" y1="121.00" x2="709.15" y2="123.40" stroke="#6c6c6c" stroke-width="1" />
<line x1="709.15" y1="412.70" x2="709.15" y2="415.20" stroke="#6c6c6c" stroke-width="1" />
<line x1="716.30" y1="121.00" x2="716.30" y2="123.90" stroke="#6c6c6c" stroke-width="1" />
<line x1="716.30" y1="412.70" x2="716.30" y2="416.30" stroke="#6c6c6c" stroke-width="1" />
<text transform="translate(708.6,115.7) rotate(-44.6)" font-size="12.5" letter-spacing="0.8" xml:space="preserve"><tspan font-style="italic">Allonella nana</tspan></text>
<polygon points="722.8,163.1 723.2,163.1 724.0,176.0 724.0,188.9 724.0,201.8 724.4,214.7 723.2,227.7 722.8,227.7" fill="#808080" stroke="#303030" stroke-width="0.9" stroke-linejoin="miter"/>
<line x1="722.80" y1="114.40" x2="722.80" y2="419.50" stroke="#555" stroke-width="1" />
<line x1="722.80" y1="121.00" x2="737.10" y2="121.00" stroke="#6c6c6c" stroke-width="1" />
<line x1="722.80" y1="412.70" x2="737.10" y2="412.70" stroke="#6c6c6c" stroke-width="1" />
<line x1="729.95" y1="121.00" x2="729.95" y2="123.40" stroke="#6c6c6c" stroke-width="1" />
<line x1="729.95" y1="412.70" x2="729.95" y2="415.20" stroke="#6c6c6c" stroke-width="1" />
<line x1="737.10" y1="121.00" x2="737.10" y2="123.90" stroke="#6c6c6c" stroke-width="1" />
<line x1="737.10" y1="412.70" x2="737.10" y2="416.30" stroke="#6c6c6c" stroke-width="1" />
<text transform="translate(729.4,115.7) rotate(-44.6)" font-size="12.5" letter-spacing="0.8" xml:space="preserve"><tspan font-style="italic">Kurzia lattissima</tspan></text>
<text transform="translate(37.8,110.4) rotate(-61)" font-size="11" letter-spacing="0.25">Age (AD)</text>
<text transform="translate(61,111) rotate(-61)" font-size="11" letter-spacing="0.25">Depth (cm)</text>
<line x1="70.00" y1="432.80" x2="744.40" y2="432.80" stroke="#4a4444" stroke-width="1.3" />
<text x="409.00" y="449.00" font-size="12.3" text-anchor="middle" letter-spacing="0.6">(%)</text>
<polygon points="744.4,124.3 819.0,124.3 848.0,137.3 840.0,150.2 843.0,163.1 832.0,176.0 820.4,188.9 832.0,201.8 815.0,214.7 812.6,227.7 826.4,240.6 819.0,253.5 822.0,266.4 809.4,279.3 817.6,292.2 795.6,305.1 808.6,318.1 789.0,331.0 783.0,343.9 778.4,356.8 787.0,369.7 782.4,382.6 792.4,395.5 786.0,408.5 744.4,408.5" fill="#808080" stroke="#303030" stroke-width="0.9" stroke-linejoin="miter"/>
<line x1="744.40" y1="114.40" x2="744.40" y2="419.60" stroke="#333" stroke-width="1" />
<line x1="744.40" y1="121.00" x2="851.60" y2="121.00" stroke="#6c6c6c" stroke-width="1" />
<line x1="744.40" y1="413.00" x2="851.60" y2="413.00" stroke="#6c6c6c" stroke-width="1" />
<line x1="755.12" y1="121.00" x2="755.12" y2="123.60" stroke="#6c6c6c" stroke-width="1" />
<line x1="755.12" y1="413.00" x2="755.12" y2="415.80" stroke="#6c6c6c" stroke-width="1" />
<line x1="765.84" y1="121.00" x2="765.84" y2="124.20" stroke="#6c6c6c" stroke-width="1" />
<line x1="765.84" y1="413.00" x2="765.84" y2="416.60" stroke="#6c6c6c" stroke-width="1" />
<text x="763.84" y="427.20" font-size="10.5" text-anchor="middle" >100</text>
<line x1="776.56" y1="121.00" x2="776.56" y2="123.60" stroke="#6c6c6c" stroke-width="1" />
<line x1="776.56" y1="413.00" x2="776.56" y2="415.80" stroke="#6c6c6c" stroke-width="1" />
<line x1="787.28" y1="121.00" x2="787.28" y2="124.20" stroke="#6c6c6c" stroke-width="1" />
<line x1="787.28" y1="413.00" x2="787.28" y2="416.60" stroke="#6c6c6c" stroke-width="1" />
<text x="785.28" y="427.20" font-size="10.5" text-anchor="middle" >200</text>
<line x1="798.00" y1="121.00" x2="798.00" y2="123.60" stroke="#6c6c6c" stroke-width="1" />
<line x1="798.00" y1="413.00" x2="798.00" y2="415.80" stroke="#6c6c6c" stroke-width="1" />
<line x1="808.72" y1="121.00" x2="808.72" y2="124.20" stroke="#6c6c6c" stroke-width="1" />
<line x1="808.72" y1="413.00" x2="808.72" y2="416.60" stroke="#6c6c6c" stroke-width="1" />
<text x="806.72" y="427.20" font-size="10.5" text-anchor="middle" >300</text>
<line x1="819.44" y1="121.00" x2="819.44" y2="123.60" stroke="#6c6c6c" stroke-width="1" />
<line x1="819.44" y1="413.00" x2="819.44" y2="415.80" stroke="#6c6c6c" stroke-width="1" />
<line x1="830.16" y1="121.00" x2="830.16" y2="124.20" stroke="#6c6c6c" stroke-width="1" />
<line x1="830.16" y1="413.00" x2="830.16" y2="416.60" stroke="#6c6c6c" stroke-width="1" />
<text x="828.16" y="427.20" font-size="10.5" text-anchor="middle" >400</text>
<line x1="840.88" y1="121.00" x2="840.88" y2="123.60" stroke="#6c6c6c" stroke-width="1" />
<line x1="840.88" y1="413.00" x2="840.88" y2="415.80" stroke="#6c6c6c" stroke-width="1" />
<line x1="851.60" y1="121.00" x2="851.60" y2="124.20" stroke="#6c6c6c" stroke-width="1" />
<line x1="851.60" y1="413.00" x2="851.60" y2="416.60" stroke="#6c6c6c" stroke-width="1" />
<text x="849.60" y="427.20" font-size="10.5" text-anchor="middle" >500</text>
<text x="764" y="442.2" font-size="11.5">In total (ind./cm<tspan font-size="6.5" dy="-4.5">3</tspan><tspan dy="4.5">)</tspan></text>
<text x="825.60" y="265.30" font-size="10.4" text-anchor="start" font-weight="bold">1980 AD</text>
<line x1="865.40" y1="114.40" x2="865.40" y2="419.40" stroke="#555" stroke-width="1" />
<line x1="868.40" y1="121.00" x2="1011.00" y2="121.00" stroke="#6c6c6c" stroke-width="1" />
<line x1="868.40" y1="412.70" x2="1011.00" y2="412.70" stroke="#6c6c6c" stroke-width="1" />
<line x1="868.40" y1="121.00" x2="868.40" y2="124.00" stroke="#6c6c6c" stroke-width="1" />
<line x1="868.40" y1="412.70" x2="868.40" y2="416.10" stroke="#6c6c6c" stroke-width="1" />
<line x1="915.93" y1="121.00" x2="915.93" y2="124.00" stroke="#6c6c6c" stroke-width="1" />
<line x1="915.93" y1="412.70" x2="915.93" y2="416.10" stroke="#6c6c6c" stroke-width="1" />
<text x="917.33" y="425.00" font-size="10.5" text-anchor="middle" >0.2</text>
<line x1="963.47" y1="121.00" x2="963.47" y2="124.00" stroke="#6c6c6c" stroke-width="1" />
<line x1="963.47" y1="412.70" x2="963.47" y2="416.10" stroke="#6c6c6c" stroke-width="1" />
<text x="964.87" y="425.00" font-size="10.5" text-anchor="middle" >0.4</text>
<line x1="1011.00" y1="121.00" x2="1011.00" y2="124.00" stroke="#6c6c6c" stroke-width="1" />
<line x1="1011.00" y1="412.70" x2="1011.00" y2="416.10" stroke="#6c6c6c" stroke-width="1" />
<text x="1012.40" y="425.00" font-size="10.5" text-anchor="middle" >0.6</text>
<text x="943.00" y="116.20" font-size="11" text-anchor="middle" >CONISS</text>
<text x="948.70" y="438.60" font-size="12" text-anchor="middle" >Total sum of squares</text>
<line x1="868.40" y1="163.45" x2="869.50" y2="163.45" stroke="#3a3a3a" stroke-width="1" />
<line x1="868.40" y1="176.35" x2="869.50" y2="176.35" stroke="#3a3a3a" stroke-width="1" />
<line x1="869.50" y1="163.45" x2="869.50" y2="176.35" stroke="#3a3a3a" stroke-width="1" />
<line x1="869.50" y1="169.90" x2="870.60" y2="169.90" stroke="#3a3a3a" stroke-width="1" />
<line x1="868.40" y1="189.25" x2="870.60" y2="189.25" stroke="#3a3a3a" stroke-width="1" />
<line x1="870.60" y1="169.90" x2="870.60" y2="189.25" stroke="#3a3a3a" stroke-width="1" />
<line x1="870.60" y1="179.57" x2="872.30" y2="179.57" stroke="#3a3a3a" stroke-width="1" />
<line x1="868.40" y1="202.15" x2="872.30" y2="202.15" stroke="#3a3a3a" stroke-width="1" />
<line x1="872.30" y1="179.57" x2="872.30" y2="202.15" stroke="#3a3a3a" stroke-width="1" />
<line x1="868.40" y1="137.65" x2="873.60" y2="137.65" stroke="#3a3a3a" stroke-width="1" />
<line x1="868.40" y1="150.55" x2="873.60" y2="150.55" stroke="#3a3a3a" stroke-width="1" />
<line x1="873.60" y1="137.65" x2="873.60" y2="150.55" stroke="#3a3a3a" stroke-width="1" />
<line x1="873.60" y1="144.10" x2="880.00" y2="144.10" stroke="#3a3a3a" stroke-width="1" />
<line x1="872.30" y1="190.86" x2="880.00" y2="190.86" stroke="#3a3a3a" stroke-width="1" />
<line x1="880.00" y1="144.10" x2="880.00" y2="190.86" stroke="#3a3a3a" stroke-width="1" />
<line x1="868.40" y1="124.75" x2="881.40" y2="124.75" stroke="#3a3a3a" stroke-width="1" />
<line x1="880.00" y1="167.48" x2="881.40" y2="167.48" stroke="#3a3a3a" stroke-width="1" />
<line x1="881.40" y1="124.75" x2="881.40" y2="167.48" stroke="#3a3a3a" stroke-width="1" />
<line x1="868.40" y1="240.85" x2="874.80" y2="240.85" stroke="#3a3a3a" stroke-width="1" />
<line x1="868.40" y1="253.75" x2="874.80" y2="253.75" stroke="#3a3a3a" stroke-width="1" />
<line x1="874.80" y1="240.85" x2="874.80" y2="253.75" stroke="#3a3a3a" stroke-width="1" />
<line x1="868.40" y1="227.95" x2="876.40" y2="227.95" stroke="#3a3a3a" stroke-width="1" />
<line x1="874.80" y1="247.30" x2="876.40" y2="247.30" stroke="#3a3a3a" stroke-width="1" />
<line x1="876.40" y1="227.95" x2="876.40" y2="247.30" stroke="#3a3a3a" stroke-width="1" />
<line x1="868.40" y1="215.05" x2="877.60" y2="215.05" stroke="#3a3a3a" stroke-width="1" />
<line x1="876.40" y1="237.62" x2="877.60" y2="237.62" stroke="#3a3a3a" stroke-width="1" />
<line x1="877.60" y1="215.05" x2="877.60" y2="237.62" stroke="#3a3a3a" stroke-width="1" />
<line x1="877.60" y1="226.34" x2="895.40" y2="226.34" stroke="#3a3a3a" stroke-width="1" />
<line x1="868.40" y1="266.65" x2="895.40" y2="266.65" stroke="#3a3a3a" stroke-width="1" />
<line x1="895.40" y1="226.34" x2="895.40" y2="266.65" stroke="#3a3a3a" stroke-width="1" />
<line x1="881.40" y1="146.12" x2="928.60" y2="146.12" stroke="#3a3a3a" stroke-width="1" />
<line x1="895.40" y1="246.49" x2="928.60" y2="246.49" stroke="#3a3a3a" stroke-width="1" />
<line x1="928.60" y1="146.12" x2="928.60" y2="246.49" stroke="#3a3a3a" stroke-width="1" />
<line x1="868.40" y1="279.55" x2="885.80" y2="279.55" stroke="#3a3a3a" stroke-width="1" />
<line x1="868.40" y1="292.45" x2="885.80" y2="292.45" stroke="#3a3a3a" stroke-width="1" />
<line x1="885.80" y1="279.55" x2="885.80" y2="292.45" stroke="#3a3a3a" stroke-width="1" />
<line x1="868.40" y1="305.35" x2="889.60" y2="305.35" stroke="#3a3a3a" stroke-width="1" />
<line x1="868.40" y1="318.25" x2="889.60" y2="318.25" stroke="#3a3a3a" stroke-width="1" />
<line x1="889.60" y1="305.35" x2="889.60" y2="318.25" stroke="#3a3a3a" stroke-width="1" />
<line x1="885.80" y1="286.00" x2="892.00" y2="286.00" stroke="#3a3a3a" stroke-width="1" />
<line x1="889.60" y1="311.80" x2="892.00" y2="311.80" stroke="#3a3a3a" stroke-width="1" />
<line x1="892.00" y1="286.00" x2="892.00" y2="311.80" stroke="#3a3a3a" stroke-width="1" />
<line x1="868.40" y1="344.05" x2="884.00" y2="344.05" stroke="#3a3a3a" stroke-width="1" />
<line x1="868.40" y1="356.95" x2="884.00" y2="356.95" stroke="#3a3a3a" stroke-width="1" />
<line x1="884.00" y1="344.05" x2="884.00" y2="356.95" stroke="#3a3a3a" stroke-width="1" />
<line x1="868.40" y1="331.15" x2="898.60" y2="331.15" stroke="#3a3a3a" stroke-width="1" />
<line x1="884.00" y1="350.50" x2="898.60" y2="350.50" stroke="#3a3a3a" stroke-width="1" />
<line x1="898.60" y1="331.15" x2="898.60" y2="350.50" stroke="#3a3a3a" stroke-width="1" />
<line x1="868.40" y1="382.75" x2="902.30" y2="382.75" stroke="#3a3a3a" stroke-width="1" />
<line x1="868.40" y1="395.65" x2="902.30" y2="395.65" stroke="#3a3a3a" stroke-width="1" />
<line x1="902.30" y1="382.75" x2="902.30" y2="395.65" stroke="#3a3a3a" stroke-width="1" />
<line x1="868.40" y1="369.85" x2="905.70" y2="369.85" stroke="#3a3a3a" stroke-width="1" />
<line x1="902.30" y1="389.20" x2="905.70" y2="389.20" stroke="#3a3a3a" stroke-width="1" />
<line x1="905.70" y1="369.85" x2="905.70" y2="389.20" stroke="#3a3a3a" stroke-width="1" />
<line x1="905.70" y1="379.53" x2="910.40" y2="379.53" stroke="#3a3a3a" stroke-width="1" />
<line x1="868.40" y1="408.55" x2="910.40" y2="408.55" stroke="#3a3a3a" stroke-width="1" />
<line x1="910.40" y1="379.53" x2="910.40" y2="408.55" stroke="#3a3a3a" stroke-width="1" />
<line x1="898.60" y1="340.82" x2="917.90" y2="340.82" stroke="#3a3a3a" stroke-width="1" />
<line x1="910.40" y1="394.04" x2="917.90" y2="394.04" stroke="#3a3a3a" stroke-width="1" />
<line x1="917.90" y1="340.82" x2="917.90" y2="394.04" stroke="#3a3a3a" stroke-width="1" />
<line x1="892.00" y1="298.90" x2="954.30" y2="298.90" stroke="#3a3a3a" stroke-width="1" />
<line x1="917.90" y1="367.43" x2="954.30" y2="367.43" stroke="#3a3a3a" stroke-width="1" />
<line x1="954.30" y1="298.90" x2="954.30" y2="367.43" stroke="#3a3a3a" stroke-width="1" />
<line x1="928.60" y1="196.30" x2="1000.00" y2="196.30" stroke="#3a3a3a" stroke-width="1" />
<line x1="954.30" y1="333.17" x2="1000.00" y2="333.17" stroke="#3a3a3a" stroke-width="1" />
<line x1="1000.00" y1="196.30" x2="1000.00" y2="333.17" stroke="#3a3a3a" stroke-width="1" />
<line x1="1000.00" y1="265.40" x2="1010.80" y2="265.40" stroke="#3a3a3a" stroke-width="1" />
<rect x="1027.3" y="120.6" width="26.9" height="291.4" fill="none" stroke="#1a1414" stroke-width="1.5"/>
<line x1="1028.00" y1="267.80" x2="1052.60" y2="267.80" stroke="#2a2a2a" stroke-width="1.4" stroke-dasharray="1.33 1.33"/>
<text transform="translate(1045.6,199) rotate(-90)" font-size="10.5" font-weight="bold" font-style="italic" text-anchor="middle">Zone 2</text>
<text transform="translate(1045.6,341.2) rotate(-90)" font-size="10.5" font-weight="bold" font-style="italic" text-anchor="middle">Zone 1</text>
<line x1="63.20" y1="267.00" x2="865.40" y2="267.00" stroke="#2a2a2a" stroke-width="1.5" stroke-dasharray="1.33 1.33"/>
<path d="M1065.5 451.3H1060.2M1062.8 449.2L1060.2 451.3L1062.4 453.4" fill="none" stroke="#666" stroke-width="1.1"/>
</svg>
</body></html>
